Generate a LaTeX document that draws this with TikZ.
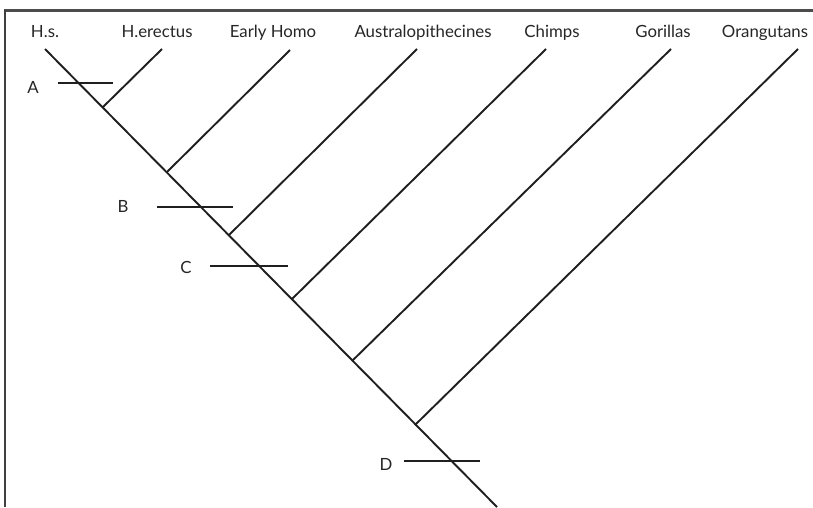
\documentclass[tikz,border=0pt]{standalone}
\usepackage{fontspec}
\setmainfont{Lato}
\begin{document}
\begin{tikzpicture}[x=1pt,y=-1pt,
  lbl/.style={font=\fontsize{16.8}{19}\selectfont, text=black!85, inner sep=0pt, anchor=base},
  letter/.style={font=\fontsize{16.8}{19}\selectfont, text=black!85, inner sep=0pt, anchor=base},
  branch/.style={line width=1.9pt, draw=black!88, line cap=butt},
  barline/.style={line width=1.9pt, draw=black!88},
  frame/.style={line width=1.5pt, draw=black!75},
  topedge/.style={fill=black!70}]
\useasboundingbox (0,0) rectangle (813,507);

% open frame: top edge as a thin band, left edge as a line
\coordinate (tl) at (4.25,9);
\coordinate (br) at (813,11.5);
\fill[topedge] (tl) rectangle (br);
\coordinate (fc) at (5,10);
\coordinate (fb) at (5,507);
\draw[frame] (fb) -- (fc);

% taxon labels
\node[lbl] (hs)  at (45,37.5)  {H.s.};
\node[lbl] (her) at (157,37.5) {H.erectus};
\node[lbl] (eh)  at (273,37.5) {Early Homo};
\node[lbl] (aus) at (423,37.5) {Australopithecines};
\node[lbl] (chi) at (552,37.5) {Chimps};
\node[lbl] (gor) at (663,37.5) {Gorillas};
\node[lbl] (ora) at (765,37.5) {Orangutans};

% branch tips
\coordinate (thr) at (45,49);
\coordinate (ther) at (162,49);
\coordinate (teh) at (290,50);
\coordinate (taus) at (417,49);
\coordinate (tchi) at (546,49);
\coordinate (tgor) at (671,49);
\coordinate (tora) at (798,49);
\coordinate (root) at (497,507);

% junctions along the main stem
\coordinate (j1) at (103,107);
\coordinate (j2) at (167,172);
\coordinate (j3) at (229,235);
\coordinate (j4) at (292,299);
\coordinate (j5) at (352,361);
\coordinate (j6) at (415,425);

% main stem
\draw[branch] (thr) -- (root);
% side branches
\draw[branch] (j1) -- (ther);
\draw[branch] (j2) -- (teh);
\draw[branch] (j3) -- (taus);
\draw[branch] (j4) -- (tchi);
\draw[branch] (j5) -- (tgor);
\draw[branch] (j6) -- (tora);

% event marks
\coordinate (a1) at (58,83);  \coordinate (a2) at (113,83);
\coordinate (b1) at (157,207); \coordinate (b2) at (233,207);
\coordinate (c1) at (210,266); \coordinate (c2) at (288,266);
\coordinate (d1) at (404,461); \coordinate (d2) at (480,461);
\draw[barline] (a1) -- (a2);
\draw[barline] (b1) -- (b2);
\draw[barline] (c1) -- (c2);
\draw[barline] (d1) -- (d2);

\node[letter] (la) at (33,93)  {A};
\node[letter] (lb) at (123,212) {B};
\node[letter] (lc) at (186,273) {C};
\node[letter] (ld) at (386,470) {D};
\end{tikzpicture}
\end{document}
